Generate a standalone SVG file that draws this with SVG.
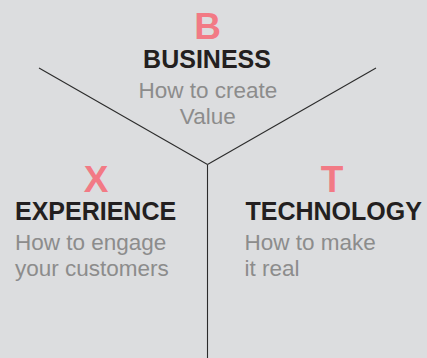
<svg xmlns="http://www.w3.org/2000/svg" width="427" height="358" viewBox="0 0 427 358">
  <style>
    .letter { font-family: "Liberation Sans", Arial, sans-serif; font-weight: bold; font-size: 37px; fill: #f27a85; text-anchor: middle; }
    .title { font-family: "Liberation Sans", Arial, sans-serif; font-weight: bold; font-size: 25px; fill: #231f20; }
    .sub { font-family: "Liberation Sans", Arial, sans-serif; font-size: 22.5px; fill: #8c8c8c; }
    .edge { stroke: #2b2b2b; stroke-width: 1.1; fill: none; }
  </style>
  <rect width="427" height="358" fill="#dcdddf"/>

  <!-- Y-shaped dividers -->
  <g id="connectors">
    <line class="edge" x1="39" y1="68" x2="207.5" y2="164.5"/>
    <line class="edge" x1="376" y1="68" x2="207.5" y2="164.5"/>
    <line class="edge" x1="207.5" y1="164.5" x2="207.5" y2="358"/>
  </g>

  <g id="business">
    <text class="letter" x="207.5" y="39">B</text>
    <text class="title" x="207" y="68.3" text-anchor="middle">BUSINESS</text>
    <text class="sub" x="207.8" y="98" text-anchor="middle">How to create</text>
    <text class="sub" x="207.8" y="124" text-anchor="middle">Value</text>
  </g>

  <g id="experience">
    <text class="letter" x="96" y="192">X</text>
    <text class="title" x="15" y="220">EXPERIENCE</text>
    <text class="sub" x="15" y="250">How to engage</text>
    <text class="sub" x="15" y="275.5">your customers</text>
  </g>

  <g id="technology">
    <text class="letter" x="332" y="192">T</text>
    <text class="title" x="245.5" y="220">TECHNOLOGY</text>
    <text class="sub" x="244.5" y="250">How to make</text>
    <text class="sub" x="244.5" y="275.5">it real</text>
  </g>
</svg>
